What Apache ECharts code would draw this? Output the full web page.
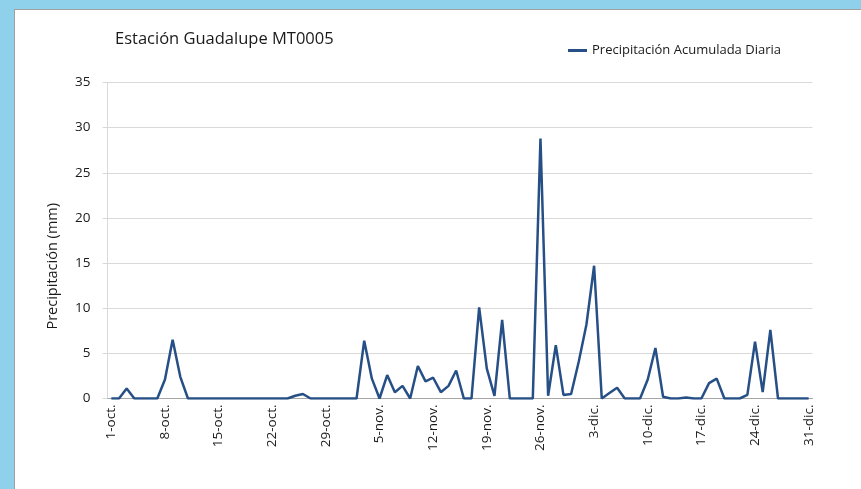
<!DOCTYPE html>
<html><head><meta charset="utf-8">
<script src="https://cdn.jsdelivr.net/npm/echarts@6/dist/echarts.min.js"></script>
<style>html,body{margin:0;padding:0;background:#8fd0eb;}#c{position:absolute;left:14px;top:9px;width:847px;height:480px;background:#fff;border-left:1px solid #a0a0a0;border-top:1px solid #a0a0a0;}</style>
</head><body><div id="c"></div>
<script>
var titleText = 'Estación Guadalupe MT0005';
var seriesName = 'Precipitación Acumulada Diaria';
var yAxisTitle = 'Precipitación (mm)';
var months = ['oct.', 'nov.', 'dic.'];
var monthDays = [31, 30, 31];
var yTicks = [0, 5, 10, 15, 20, 25, 30, 35];
var precip = [
  0, 0, 1.1, 0, 0, 0, 0, 2.1, 6.5, 2.4,
  0, 0, 0, 0, 0, 0, 0, 0, 0, 0,
  0, 0, 0, 0, 0.3, 0.5, 0, 0, 0, 0,
  0, 0, 0, 6.4, 2.2, 0, 2.6, 0.7, 1.4, 0,
  3.6, 1.9, 2.3, 0.7, 1.4, 3.1, 0, 0, 10.1, 3.3,
  0.3, 8.7, 0, 0, 0, 0, 28.8, 0.3, 5.9, 0.4,
  0.5, 4.1, 8.2, 14.7, 0, 0.6, 1.2, 0, 0, 0,
  2.1, 5.6, 0.2, 0, 0, 0.1, 0, 0, 1.7, 2.2,
  0, 0, 0, 0.4, 6.3, 0.7, 7.6, 0, 0, 0,
  0, 0
];
var categories = [];
months.forEach(function (m, i) { for (var d = 1; d <= monthDays[i]; d++) categories.push(d + '-' + m); });

var font = '"Open Sans", "Noto Sans", sans-serif';
var chart = echarts.init(document.getElementById('c'));
chart.setOption({
  animation: false,
  textStyle: { fontFamily: font },
  title: { text: titleText, left: 95, top: 16, textStyle: { fontFamily: font, fontSize: 16.5, fontWeight: 'normal', color: '#1a1a1a' } },
  legend: {
    data: [seriesName], left: 548, top: 29, itemWidth: 19, itemHeight: 3, itemGap: 3,
    icon: 'rect', textStyle: { fontFamily: font, fontSize: 13, color: '#1a1a1a' }
  },
  grid: { left: 92.5, right: 49.5, top: 72.5, bottom: 91.5 },
  xAxis: {
    type: 'category', data: categories, boundaryGap: true,
    axisLine: { lineStyle: { color: '#a6a6a6', width: 1 } },
    axisTick: { interval: 6, length: 5, lineStyle: { color: '#a6a6a6' } },
    axisLabel: { interval: 6, rotate: 90, fontSize: 13.5, color: '#1a1a1a', margin: 6, fontFamily: font }
  },
  yAxis: {
    type: 'value', min: 0, max: 35, interval: 5,
    axisLine: { show: true, lineStyle: { color: '#d9d9d9' } },
    axisTick: { show: true, length: 5, lineStyle: { color: '#d9d9d9' } },
    axisLabel: { fontSize: 13.5, color: '#1a1a1a', margin: 17, fontFamily: font },
    splitLine: { lineStyle: { color: '#d9d9d9', width: 1 } }
  },
  graphic: [{
    type: 'text', left: 30, top: 193, rotation: Math.PI / 2,
    style: { text: yAxisTitle, font: '14.5px ' + font, fill: '#1a1a1a' }
  }],
  series: [{
    name: seriesName, type: 'line', data: precip, showSymbol: false, symbol: 'none',
    lineStyle: { color: '#264f86', width: 2.5 }, itemStyle: { color: '#264f86' }
  }]
});
</script></body></html>
